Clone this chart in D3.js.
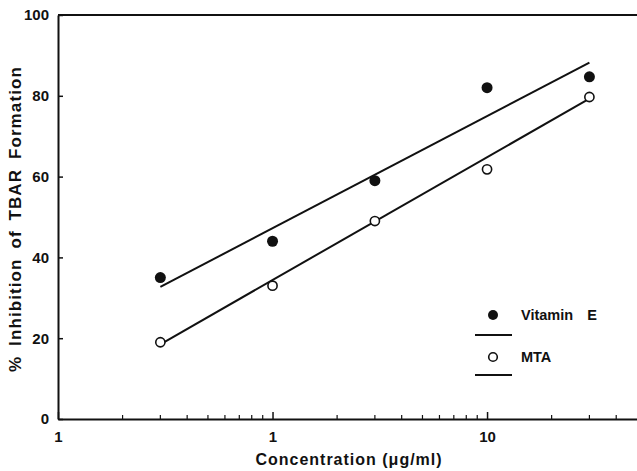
<!DOCTYPE html>
<html><head><meta charset="utf-8">
<script src="https://cdn.jsdelivr.net/npm/d3@7"></script>
<style>body{margin:0;background:#fff}svg{display:block}text{font-family:"Liberation Sans",Arial,sans-serif;fill:#111}</style>
</head><body><svg id="c" width="637" height="471"></svg>
<script>
const concentrations = [0.3, 1, 3, 10, 30];
const vitaminE = [35, 44, 59, 82, 84.7];
const mta = [19, 33, 49, 61.8, 79.7];
const vitaminEFit = [32.7, 88.2];   // fitted line at first and last concentration
const mtaFit = [18.5, 79.3];
const xTickValues = [0.1, 1, 10];
const xTickLabels = ["1", "1", "10"];
const xMinorTicks = [0.2,0.3,0.4,0.5,0.6,0.7,0.8,0.9,2,3,4,5,6,7,8,9,20,30,40];
const yTickValues = [0, 20, 40, 60, 80, 100];
const seriesNames = ["Vitamin  E", "MTA"];

const svg = d3.select("#c");
const x = d3.scaleLog().domain([0.1, 50]).range([58, 637]);
const y = d3.scaleLinear().domain([0, 100]).range([419, 15]);
const ink = "#111";

// frame
svg.append("line").attr("x1", 58).attr("x2", 637).attr("y1", y(100)).attr("y2", y(100)).attr("stroke", ink).attr("stroke-width", 2);

// x axis
const xAxis = svg.append("g").attr("transform", `translate(0,${y(0)})`)
  .call(d3.axisBottom(x).tickValues(xTickValues).tickFormat((d,i)=>xTickLabels[i]).tickSizeInner(-7).tickSizeOuter(0).tickPadding(12));
xAxis.select(".domain").attr("stroke", ink).attr("stroke-width", 2);
xAxis.selectAll(".tick line").attr("stroke", ink).attr("stroke-width", 1.5);
xAxis.selectAll("text").attr("font-size", 15).attr("font-weight", "bold").attr("fill", ink).attr("font-family", "Liberation Sans, Arial, sans-serif");
svg.append("g").selectAll("line").data(xMinorTicks).join("line")
  .attr("x1", d=>x(d)).attr("x2", d=>x(d)).attr("y1", y(0)).attr("y2", y(0)-4)
  .attr("stroke", ink).attr("stroke-width", 1.2);

// y axis
const yAxis = svg.append("g").attr("transform", `translate(58,0)`)
  .call(d3.axisLeft(y).tickValues(yTickValues).tickSizeInner(-5).tickSizeOuter(0).tickPadding(9));
yAxis.select(".domain").attr("stroke", ink).attr("stroke-width", 2);
yAxis.selectAll(".tick line").attr("stroke", ink).attr("stroke-width", 1.5);
yAxis.selectAll("text").attr("font-size", 15).attr("font-weight", "bold").attr("fill", ink).attr("font-family", "Liberation Sans, Arial, sans-serif");

// titles
svg.append("text").attr("x", 349).attr("y", 465).attr("text-anchor", "middle")
  .attr("font-size", 16).attr("font-weight", "bold").attr("letter-spacing", 1).text("Concentration (\u03bcg/ml)");
svg.append("text").attr("transform", "translate(21,219) rotate(-90)").attr("text-anchor", "middle")
  .attr("font-size", 17).attr("font-weight", "bold").attr("letter-spacing", 1.1).attr("word-spacing", 4)
  .text("% Inhibition of TBAR Formation");

// fit lines
const xEnds = [concentrations[0], concentrations[concentrations.length-1]];
const line = d3.line().x(d=>x(d[0])).y(d=>y(d[1]));
[vitaminEFit, mtaFit].forEach(f=>{
  svg.append("path").attr("d", line(xEnds.map((c,i)=>[c, f[i]])))
    .attr("fill", "none").attr("stroke", ink).attr("stroke-width", 2);
});

// points
svg.append("g").selectAll("circle").data(concentrations.map((c,i)=>[c, vitaminE[i]])).join("circle")
  .attr("cx", d=>x(d[0])).attr("cy", d=>y(d[1])).attr("r", 5.5).attr("fill", ink);
svg.append("g").selectAll("circle").data(concentrations.map((c,i)=>[c, mta[i]])).join("circle")
  .attr("cx", d=>x(d[0])).attr("cy", d=>y(d[1])).attr("r", 4.6).attr("fill", "#fff").attr("stroke", ink).attr("stroke-width", 1.6);

// legend
const lg = svg.append("g");
lg.append("circle").attr("cx", 493).attr("cy", 315).attr("r", 5).attr("fill", ink);
lg.append("text").attr("x", 521).attr("y", 320).attr("font-size", 14.5).attr("font-weight", "bold").attr("word-spacing", 10).text(seriesNames[0]);
lg.append("line").attr("x1", 475).attr("x2", 512).attr("y1", 335).attr("y2", 335).attr("stroke", ink).attr("stroke-width", 2);
lg.append("circle").attr("cx", 493).attr("cy", 357).attr("r", 4.3).attr("fill", "#fff").attr("stroke", ink).attr("stroke-width", 1.6);
lg.append("text").attr("x", 521).attr("y", 362).attr("font-size", 14.5).attr("font-weight", "bold").text(seriesNames[1]);
lg.append("line").attr("x1", 475).attr("x2", 512).attr("y1", 375).attr("y2", 375).attr("stroke", ink).attr("stroke-width", 2);
</script></body></html>
